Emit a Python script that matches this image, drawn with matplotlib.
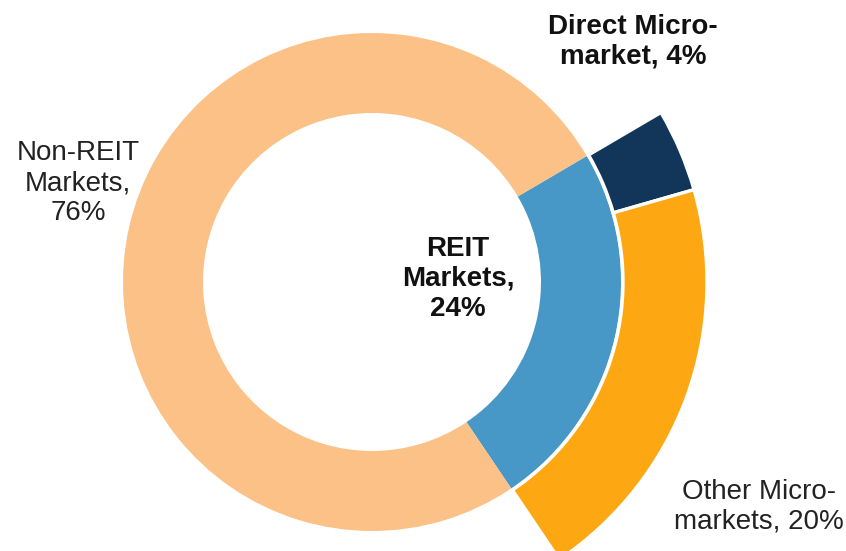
import matplotlib.pyplot as plt

# market split (percent)
inner_labels = ['REIT Markets', 'Non-REIT Markets']
inner_values = [24, 76]
outer_labels = ['Direct Micro-market', 'Other Micro-markets']
outer_values = [4, 20]

inner_colors = ['#4797C7', '#FBC186']
outer_colors = ['#113659', '#FDA712']

plt.rcParams['font.family'] = ['Liberation Sans', 'DejaVu Sans']

fig = plt.figure(figsize=(8.46, 5.51), dpi=100)
ax = fig.add_axes([0, 0, 1, 1])

center = (372, 269)  # pixel coords, y up
start = 30.4

ax.pie([v / 100 for v in inner_values], colors=inner_colors, radius=249, center=center,
       startangle=start, counterclock=False, normalize=False,
       wedgeprops=dict(width=80, linewidth=0))
ax.pie([v / 100 for v in outer_values], colors=outer_colors, radius=335, center=center,
       startangle=start, counterclock=False, normalize=False,
       wedgeprops=dict(width=84, edgecolor='white', linewidth=2.4))

ax.set_xlim(0, 846)
ax.set_ylim(0, 551)
ax.set_aspect('equal')
ax.axis('off')

ax.text(78, 368, 'Non-REIT\nMarkets,\n%d%%' % inner_values[1], ha='center', va='center',
        fontsize=20, color='#222222', linespacing=1.2)
ax.text(458, 272, 'REIT\nMarkets,\n%d%%' % inner_values[0], ha='center', va='center',
        fontsize=20, fontweight='bold', color='#111111', linespacing=1.2)
ax.text(633, 509, 'Direct Micro-\nmarket, %d%%' % outer_values[0], ha='center', va='center',
        fontsize=20, fontweight='bold', color='#111111', linespacing=1.2)
ax.text(759, 44, 'Other Micro-\nmarkets, %d%%' % outer_values[1], ha='center', va='center',
        fontsize=20, color='#222222', linespacing=1.2)

plt.savefig('out.png', dpi=100)
